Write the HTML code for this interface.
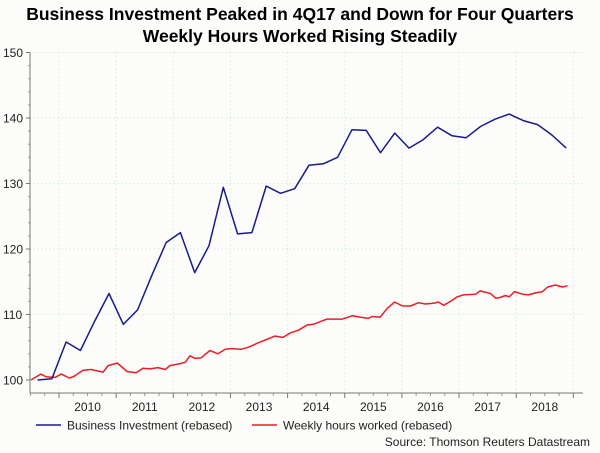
<!DOCTYPE html>
<html><head><meta charset="utf-8">
<style>
html,body{margin:0;padding:0;background:#fcfcfa;}
svg{display:block;font-family:"Liberation Sans",sans-serif;}
</style></head>
<body>
<svg id="chart" width="600" height="453" viewBox="0 0 600 453">
<rect x="0" y="0" width="600" height="453" fill="#fcfcfa"/>
<text x="300" y="20" text-anchor="middle" font-size="17.5" font-weight="bold" fill="#000">Business Investment Peaked in 4Q17 and Down for Four Quarters</text>
<text x="300" y="42" text-anchor="middle" font-size="17.5" font-weight="bold" fill="#000">Weekly Hours Worked Rising Steadily</text>
<g id="grid"></g>
<g id="axes"></g>
<g id="series"></g>
<g>
<line x1="36" y1="425" x2="61" y2="425" stroke="#1a1a8c" stroke-width="1.5"/>
<text x="67" y="429.5" font-size="12" fill="#222">Business Investment (rebased)</text>
<line x1="252" y1="425" x2="277" y2="425" stroke="#ee1c24" stroke-width="1.5"/>
<text x="283" y="429.5" font-size="12" fill="#222">Weekly hours worked (rebased)</text>
</g>
<text x="590" y="446" text-anchor="end" font-size="12" fill="#222">Source: Thomson Reuters Datastream</text>
</svg>
<script>
const yTicks = [100, 110, 120, 130, 140, 150];
const yearLabels = ["2010","2011","2012","2013","2014","2015","2016","2017","2018"];
const investStart = 2009.625;
const investValues = [100.0,100.2,105.8,104.5,109.0,113.2,108.5,110.7,116.0,121.0,122.5,116.4,120.5,129.4,122.3,122.5,129.6,128.5,129.2,132.8,133.0,134.0,138.2,138.1,134.7,137.7,135.4,136.7,138.6,137.3,137.0,138.7,139.8,140.6,139.6,139.0,137.4,135.4];
const hoursDates = [2009.51,2009.68,2009.77,2009.93,2010.04,2010.18,2010.25,2010.42,2010.56,2010.77,2010.86,2011.02,2011.19,2011.35,2011.47,2011.59,2011.73,2011.86,2011.94,2012.12,2012.21,2012.29,2012.38,2012.49,2012.64,2012.78,2012.91,2013.01,2013.19,2013.31,2013.49,2013.61,2013.78,2013.92,2014.05,2014.19,2014.34,2014.45,2014.69,2014.96,2015.13,2015.27,2015.41,2015.48,2015.62,2015.74,2015.87,2016.01,2016.15,2016.29,2016.41,2016.53,2016.64,2016.73,2016.85,2016.97,2017.08,2017.29,2017.37,2017.55,2017.64,2017.72,2017.81,2017.88,2017.97,2018.11,2018.21,2018.34,2018.46,2018.55,2018.69,2018.81,2018.90];
const hoursValues = [100.0,100.9,100.5,100.4,100.9,100.3,100.5,101.5,101.6,101.2,102.2,102.6,101.3,101.1,101.8,101.7,101.9,101.6,102.2,102.5,102.7,103.7,103.3,103.4,104.5,104.0,104.7,104.8,104.7,105.0,105.7,106.1,106.7,106.5,107.2,107.6,108.4,108.5,109.3,109.3,109.8,109.6,109.4,109.7,109.6,110.9,111.9,111.3,111.3,111.8,111.6,111.7,111.9,111.4,112.0,112.7,113.0,113.1,113.6,113.2,112.5,112.6,112.9,112.7,113.5,113.1,113.0,113.3,113.5,114.2,114.5,114.2,114.4];

const NS = "http://www.w3.org/2000/svg";
const X0 = 30, X1 = 583, Y0 = 393;
function xOf(t){ return 59 + (t - 2010) * 57.15; }
function yOf(v){ return 380 - (v - 100) * 6.55; }
function mk(tag, attrs, parent){ const e = document.createElementNS(NS, tag); for (const k in attrs) e.setAttribute(k, attrs[k]); parent.appendChild(e); return e; }
const grid = document.getElementById('grid'), axes = document.getElementById('axes'), series = document.getElementById('series');

yTicks.forEach(v => {
  const y = yOf(v);
  if (v > 100) {
    const g = mk('line', {x1:X0, y1:y, x2:X1, y2:y, stroke:'#c8e0d0', 'stroke-width':1, 'stroke-dasharray':'1,3'}, grid);
    
    
  }
  const t = mk('text', {x:3, y:y + 4.5, 'font-size':12, fill:'#222'}, axes);
  t.textContent = v;
  
  
  const tk = mk('line', {x1:X0 - 4, y1:y, x2:X0, y2:y, stroke:'#777'}, axes);
  
  
});
for (let v = 102; v < 150; v += 2) {
  if (v % 10 === 0) continue;
  const y = yOf(v);
  const m = mk('line', {x1:X0 - 2, y1:y, x2:X0, y2:y, stroke:'#999'}, axes);
  
  
}
for (let yr = 2010; yr <= 2019; yr++) {
  const x = xOf(yr);
  const g = mk('line', {x1:x, y1:yOf(150), x2:x, y2:Y0, stroke:'#c8e0d0', 'stroke-width':1, 'stroke-dasharray':'1,3'}, grid);
  
  
  const tk = mk('line', {x1:x, y1:Y0, x2:x, y2:Y0 + 5, stroke:'#777'}, axes);
  
  
}
for (let q = 2009.5; q < 2019; q += 0.25) {
  if (Math.abs(q - Math.round(q)) < 0.01) continue;
  const x = xOf(q);
  const m = mk('line', {x1:x, y1:Y0, x2:x, y2:Y0 + 3, stroke:'#999'}, axes);
  
  
}
yearLabels.forEach((lab, i) => {
  const t = mk('text', {x:xOf(2010.5 + i), y:411, 'text-anchor':'middle', 'font-size':12, fill:'#222'}, axes);
  t.textContent = lab;
  
  
});
const ya = mk('line', {x1:X0, y1:yOf(150), x2:X0, y2:Y0, stroke:'#777'}, axes);


const xa = mk('line', {x1:X0, y1:Y0, x2:X1, y2:Y0, stroke:'#777'}, axes);



const hp = hoursValues.map((v, i) => xOf(hoursDates[i]).toFixed(1) + ',' + yOf(v).toFixed(1)).join(' ');
const hl = mk('polyline', {points:hp, fill:'none', stroke:'#ee1c24', 'stroke-width':1.5, 'stroke-linejoin':'round'}, series);


const ip = investValues.map((v, i) => xOf(investStart + i * 0.25).toFixed(1) + ',' + yOf(v).toFixed(1)).join(' ');
const il = mk('polyline', {points:ip, fill:'none', stroke:'#1a1a8c', 'stroke-width':1.5, 'stroke-linejoin':'round'}, series);


</script>
</body></html>
